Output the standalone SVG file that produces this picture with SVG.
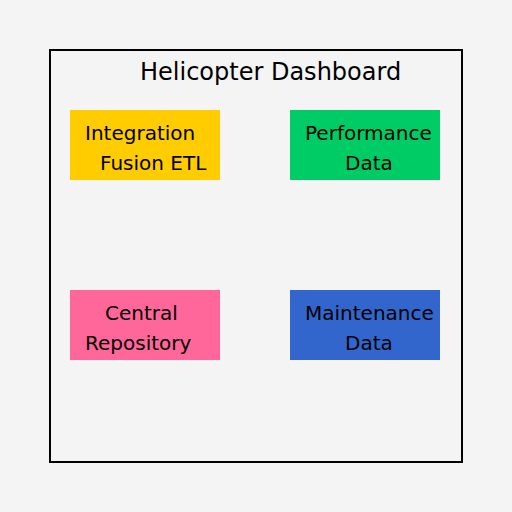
<svg xmlns="http://www.w3.org/2000/svg" width="512" height="512" viewBox="0 0 512 512">
<style>
.lbl{font-family:"DejaVu Sans",sans-serif;font-size:20px;fill:#000}
.ttl{font-family:"DejaVu Sans",sans-serif;font-size:24px;fill:#000}
</style>
<rect x="0" y="0" width="512" height="512" fill="#f4f4f4"/>
<rect x="50" y="50" width="412" height="412" fill="none" stroke="#000" stroke-width="2"/>
<text class="ttl" x="140" y="80">Helicopter Dashboard</text>
<g id="connectors"></g>
<g id="integration">
<rect x="70" y="110" width="150" height="70" fill="#ffcc00"/>
<text class="lbl"><tspan x="85" y="140">Integration</tspan><tspan x="100" y="170">Fusion ETL</tspan></text>
</g>
<g id="performance">
<rect x="290" y="110" width="150" height="70" fill="#00cc66"/>
<text class="lbl"><tspan x="305" y="140">Performance</tspan><tspan x="345" y="170">Data</tspan></text>
</g>
<g id="central">
<rect x="70" y="290" width="150" height="70" fill="#ff6699"/>
<text class="lbl"><tspan x="105" y="320">Central</tspan><tspan x="85" y="350">Repository</tspan></text>
</g>
<g id="maintenance">
<rect x="290" y="290" width="150" height="70" fill="#3366cc"/>
<text class="lbl"><tspan x="305" y="320">Maintenance</tspan><tspan x="345" y="350">Data</tspan></text>
</g>
</svg>
